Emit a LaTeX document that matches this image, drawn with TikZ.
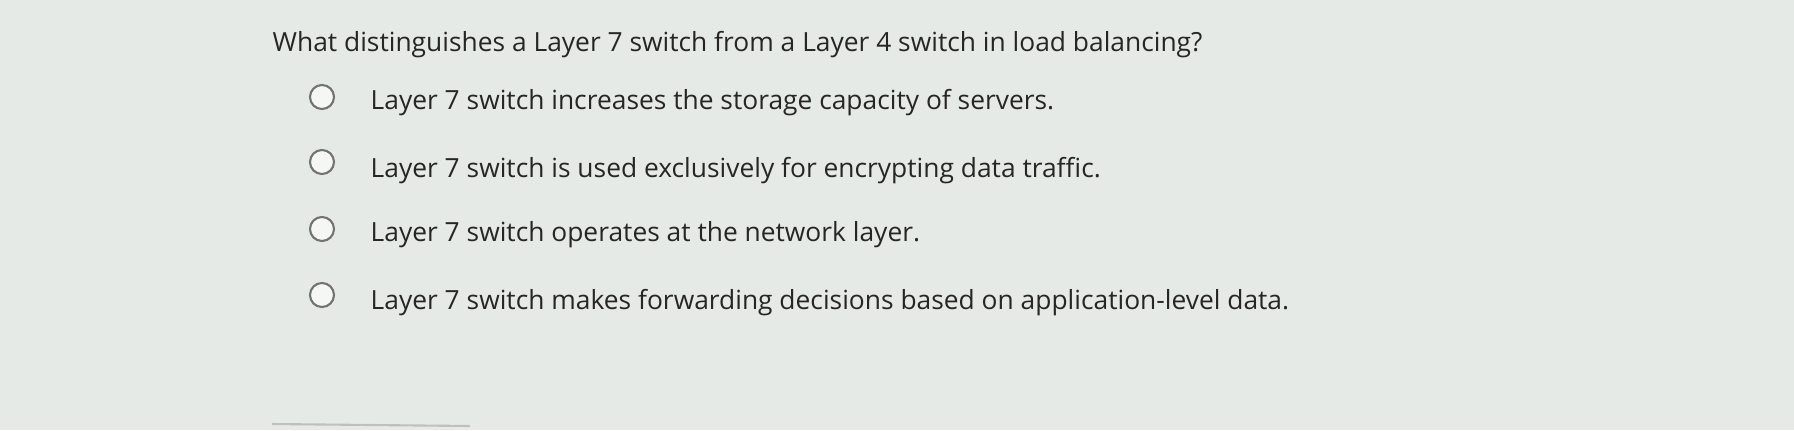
\documentclass[tikz,border=0pt]{standalone}
\usepackage{fontspec}
\setmainfont{Open Sans}
\definecolor{bgc}{HTML}{E6EAE6}
\begin{document}
\begin{tikzpicture}[x=0.01cm,y=-0.01cm,
  qtext/.style={anchor=west,inner sep=0pt,font=\fontsize{7.5}{9}\selectfont,text=black!85},
  radio/.style={circle,draw=black!55,line width=0.6pt,fill=white!60!bgc,minimum size=0.24cm,inner sep=0pt}]
\fill[bgc] (0,0) rectangle (1794,430);
\useasboundingbox (0,0) rectangle (1794,430);
\node[qtext] (q) at (272,45) {What distinguishes a Layer 7 switch from a Layer 4 switch in load balancing?};
\node[radio] (r1) at (322,97) {};
\node[qtext] (t1) at (370,103) {Layer 7 switch increases the storage capacity of servers.};
\node[radio] (r2) at (322,162) {};
\node[qtext] (t2) at (370,171) {Layer 7 switch is used exclusively for encrypting data traffic.};
\node[radio] (r3) at (322,229) {};
\node[qtext] (t3) at (370,235) {Layer 7 switch operates at the network layer.};
\node[radio] (r4) at (322,295) {};
\node[qtext] (t4) at (370,303) {Layer 7 switch makes forwarding decisions based on application-level data.};
\draw[black!25,line width=0.6pt] (272,424) -- (470,426);
\end{tikzpicture}
\end{document}
